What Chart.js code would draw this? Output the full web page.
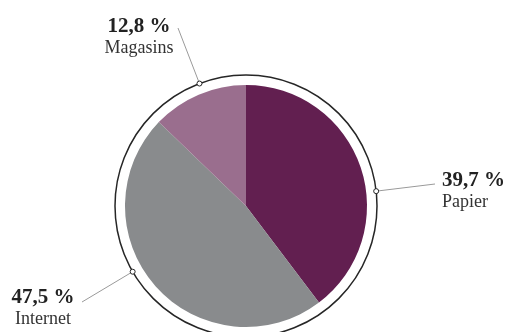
<!DOCTYPE html>
<html>
<head>
<meta charset="utf-8">
<script src="https://cdn.jsdelivr.net/npm/chart.js@4/dist/chart.umd.min.js"></script>
<style>
  html, body { margin: 0; padding: 0; background: #fff; }
  #wrap { width: 508px; height: 332px; position: relative; }
</style>
</head>
<body>
<div id="wrap"><canvas id="chart"></canvas></div>
<script>
// Chart data (clockwise from 12 o'clock)
const categories = ['Papier', 'Internet', 'Magasins'];
const shares = [39.7, 47.5, 12.8];
const sliceColors = ['#621f50', '#898b8d', '#9a6e8e'];

// label placement: angle of the ring marker (deg, clockwise from top),
// end of the leader line, text anchor and alignment
const labelLayout = [
  { angle: 83.5,  lineEnd: [435, 184], text: [442, 186], align: 'left' },
  { angle: 239.9, lineEnd: [82, 302],  text: [43, 303],  align: 'center' },
  { angle: 339.2, lineEnd: [178, 28],  text: [139, 32],  align: 'center' }
];

const fmt = v => v.toFixed(1).replace('.', ',') + ' %';

// Outer ring, leader lines, markers and labels
const ringLabels = {
  id: 'ringLabels',
  afterDatasetsDraw(chart) {
    const ctx = chart.ctx;
    const arc = chart.getDatasetMeta(0).data[0];
    if (!arc) return;
    const cx = arc.x, cy = arc.y;
    const ringR = arc.outerRadius + 10;

    ctx.save();
    ctx.beginPath();
    ctx.arc(cx, cy, ringR, 0, Math.PI * 2);
    ctx.strokeStyle = '#262626';
    ctx.lineWidth = 1.5;
    ctx.stroke();

    labelLayout.forEach((lay, i) => {
      const a = lay.angle * Math.PI / 180;
      const mx = cx + Math.sin(a) * ringR;
      const my = cy - Math.cos(a) * ringR;

      ctx.beginPath();
      ctx.moveTo(mx, my);
      ctx.lineTo(lay.lineEnd[0], lay.lineEnd[1]);
      ctx.strokeStyle = '#9a9a9a';
      ctx.lineWidth = 1;
      ctx.stroke();

      ctx.beginPath();
      ctx.arc(mx, my, 2.5, 0, Math.PI * 2);
      ctx.fillStyle = '#fff';
      ctx.fill();
      ctx.strokeStyle = '#262626';
      ctx.lineWidth = 1;
      ctx.stroke();

      ctx.textAlign = lay.align;
      ctx.textBaseline = 'alphabetic';
      ctx.fillStyle = '#222';
      ctx.font = 'bold 21px "Liberation Serif", "DejaVu Serif", serif';
      ctx.fillText(fmt(shares[i]), lay.text[0], lay.text[1]);
      ctx.fillStyle = '#333';
      ctx.font = '18px "Liberation Serif", "DejaVu Serif", serif';
      ctx.fillText(categories[i], lay.text[0], lay.text[1] + 21);
    });
    ctx.restore();
  }
};

new Chart(document.getElementById('chart'), {
  type: 'pie',
  data: {
    labels: categories,
    datasets: [{
      data: shares,
      backgroundColor: sliceColors,
      borderWidth: 0
    }]
  },
  options: {
    responsive: true,
    maintainAspectRatio: false,
    animation: false,
    layout: { padding: { top: 85, bottom: 5, left: 0, right: 16 } },
    plugins: {
      legend: { display: false },
      tooltip: { enabled: false }
    }
  },
  plugins: [ringLabels]
});
</script>
</body>
</html>
